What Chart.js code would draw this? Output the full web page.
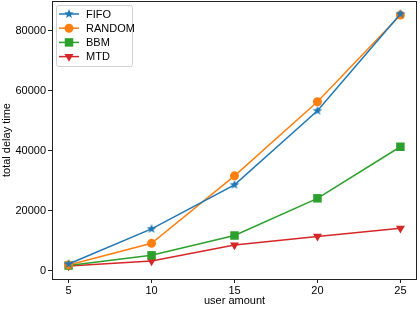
<!DOCTYPE html>
<html><head><meta charset="utf-8">
<script src="https://cdn.jsdelivr.net/npm/chart.js@4/dist/chart.umd.min.js"></script>
<style>html,body{margin:0;padding:0;background:#fff}#wrap{width:420px;height:309px}</style>
</head><body><div id="wrap"><canvas id="c" width="420" height="309"></canvas></div>
<script>
const userAmounts = [5, 10, 15, 20, 25];
const fifo = [2300, 14000, 28700, 53400, 85700];
const randomS = [2000, 9200, 31700, 56400, 85300];
const bbm = [1800, 5200, 11800, 24200, 41400];
const mtd = [1600, 3300, 8600, 11500, 14200];
const yTicks = [0, 20000, 40000, 60000, 80000];
const xTicks = [5, 10, 15, 20, 25];
const seriesNames = ['FIFO', 'RANDOM', 'BBM', 'MTD'];
const colors = ['#1f77b4', '#ff7f0e', '#2ca02c', '#d62728'];
const FONT = '"Liberation Sans", Arial, sans-serif';

function makeStar(color, R, r) {
  const s = Math.ceil(R * 2 + 2), c = document.createElement('canvas');
  c.width = s; c.height = s;
  const g = c.getContext('2d'); g.fillStyle = color;
  g.beginPath();
  for (let i = 0; i < 10; i++) {
    const rad = i % 2 ? r : R, a = -Math.PI / 2 + i * Math.PI / 5;
    g.lineTo(s / 2 + rad * Math.cos(a), s / 2 + rad * Math.sin(a));
  }
  g.closePath(); g.fill();
  return c;
}
const starImg = makeStar(colors[0], 5, 2.1);

const pts = v => v.map((y, i) => ({x: userAmounts[i], y}));
const datasets = [
  {label: seriesNames[0], data: pts(fifo), borderColor: colors[0], backgroundColor: colors[0], pointStyle: starImg, pointRadius: 5},
  {label: seriesNames[1], data: pts(randomS), borderColor: colors[1], backgroundColor: colors[1], pointStyle: 'circle', pointRadius: 4.5},
  {label: seriesNames[2], data: pts(bbm), borderColor: colors[2], backgroundColor: colors[2], pointStyle: 'rect', pointRadius: 6},
  {label: seriesNames[3], data: pts(mtd), borderColor: colors[3], backgroundColor: colors[3], pointStyle: 'triangle', rotation: 180, pointRadius: 5.2},
].map(d => Object.assign({borderWidth: 1.5, pointBorderWidth: 0, tension: 0}, d));

const frame = {
  id: 'frame',
  afterDraw(chart) {
    const {ctx, chartArea: a} = chart;
    ctx.save();
    ctx.strokeStyle = '#222'; ctx.lineWidth = 1;
    ctx.strokeRect(Math.round(a.left) + 0.5, Math.round(a.top) + 0.5, Math.round(a.right - a.left) - 1, Math.round(a.bottom - a.top));
    // legend
    const lx = 56, ly = 5, lw = 76, lh = 61;
    ctx.fillStyle = 'rgba(255,255,255,0.8)';
    ctx.strokeStyle = '#d0d0d0';
    ctx.beginPath(); ctx.roundRect(lx + 0.5, ly + 0.5, lw, lh, 2); ctx.fill(); ctx.stroke();
    ctx.font = '11px ' + FONT;
    ctx.textBaseline = 'middle';
    chart.data.datasets.forEach((d, i) => {
      const y = ly + 9 + i * 14.2;
      ctx.strokeStyle = d.borderColor; ctx.lineWidth = 1.5;
      ctx.beginPath(); ctx.moveTo(lx + 3, y); ctx.lineTo(lx + 23, y); ctx.stroke();
      ctx.fillStyle = d.backgroundColor; ctx.strokeStyle = d.backgroundColor;
      Chart.helpers.drawPoint(ctx, {pointStyle: d.pointStyle, radius: d.pointRadius, rotation: d.rotation || 0, borderWidth: 0}, lx + 13, y);
      ctx.fillStyle = '#000';
      ctx.fillText(d.label, lx + 30, y + 0.5);
    });
    ctx.restore();
  }
};

new Chart(document.getElementById('c'), {
  type: 'line',
  data: {datasets},
  plugins: [frame],
  options: {
    responsive: false, animation: false,
    layout: {autoPadding: false, padding: {top: 1, right: 3, left: 0, bottom: 0}},
    plugins: {legend: {display: false}, tooltip: {enabled: false}},
    scales: {
      x: {
        type: 'linear', min: 4, max: 26,
        afterBuildTicks: s => { s.ticks = xTicks.map(v => ({value: v})); },
        afterFit: s => { s.height = 30; s.paddingLeft = 0; s.paddingRight = 0; },
        grid: {drawOnChartArea: false, drawTicks: true, tickLength: 4, color: '#222'},
        border: {display: false},
        ticks: {color: '#000', font: {size: 11, family: FONT}, padding: 1, maxRotation: 0},
        title: {display: true, text: 'user amount', color: '#000', font: {size: 11, family: FONT}, padding: {top: 0, bottom: 1}}
      },
      y: {
        min: -2700, max: 90000,
        afterBuildTicks: s => { s.ticks = yTicks.map(v => ({value: v})); },
        afterFit: s => { s.width = 52; s.paddingTop = 0; s.paddingBottom = 0; },
        grid: {drawOnChartArea: false, drawTicks: true, tickLength: 4, color: '#222'},
        border: {display: false},
        ticks: {color: '#000', font: {size: 11, family: FONT}, padding: 2, callback: v => String(v)},
        title: {display: true, text: 'total delay time', color: '#000', font: {size: 11, family: FONT}, padding: {top: 0, bottom: 2}}
      }
    }
  }
});
</script></body></html>
